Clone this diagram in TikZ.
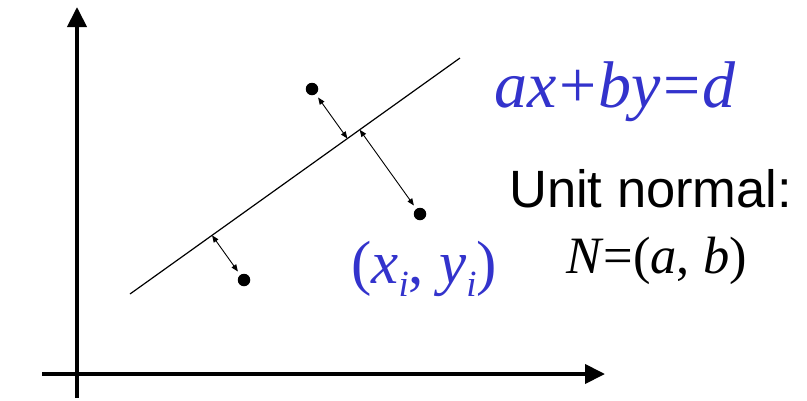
\documentclass[tikz,border=0pt]{standalone}
\usepackage{fontspec}
\setmainfont{Liberation Serif}
\newfontfamily\sansf{Liberation Sans}
\usetikzlibrary{arrows.meta,calc}
\definecolor{eqblue}{RGB}{51,51,204}
\newcommand{\subi}{\raisebox{-0.22em}{\fontsize{37}{37}\selectfont\itshape i}}
\begin{document}
\begin{tikzpicture}[x=1pt,y=-1pt,
  axis/.style={line width=4pt,-{Triangle[length=20pt,width=19pt]}},
  fitline/.style={line width=1.2pt},
  dot/.style={circle,fill=black,inner sep=0pt,minimum size=12.5pt},
  dist/.style={line width=0.9pt,{Triangle[length=7pt,width=5.5pt]}-{Triangle[length=7pt,width=5.5pt]},shorten <=4pt},
  lbl/.style={inner sep=0pt,anchor=base west}]
\useasboundingbox (0,0) rectangle (807,400);
% axes
\coordinate (ybot) at (77,398);
\coordinate (ytip) at (77,7);
\coordinate (xleft) at (42,374);
\coordinate (xtip) at (605,374);
\draw[axis] (ybot) -- (ytip);
\draw[axis] (xleft) -- (xtip);
% fitted line
\coordinate (L1) at (130,294);
\coordinate (L2) at (460,58);
\draw[fitline] (L1) -- (L2);
% data points
\node[dot] (p1) at (312,89) {};
\node[dot] (p2) at (420,214) {};
\node[dot] (p3) at (244,280) {};
\coordinate (f1) at ($(L1)!(p1)!(L2)$);
\coordinate (f2) at ($(L1)!(p2)!(L2)$);
\coordinate (f3) at ($(L1)!(p3)!(L2)$);
\draw[dist] (p1) -- (f1);
\draw[dist] (p2) -- (f2);
\draw[dist] (p3) -- (f3);
% labels
\node[lbl,text=eqblue,font=\fontsize{66}{66}\selectfont] (eq) at (494,107)
  {\itshape ax\kern0.04em\upshape+\kern0.04em\itshape by\kern0.03em\upshape=\kern0.03em\itshape d};
\node[lbl,text=eqblue,font=\fontsize{61}{61}\selectfont] (pt) at (351,283)
  {(\textit{x}\subi, \textit{y}\subi)};
\node[lbl,font=\sansf\fontsize{52.5}{52.5}\selectfont] (un) at (509,207) {Unit normal:};
\node[lbl,font=\fontsize{52.5}{52.5}\selectfont] (nn) at (566,273)
  {\textit{N}=(\textit{a}, \textit{b})};
\end{tikzpicture}
\end{document}
